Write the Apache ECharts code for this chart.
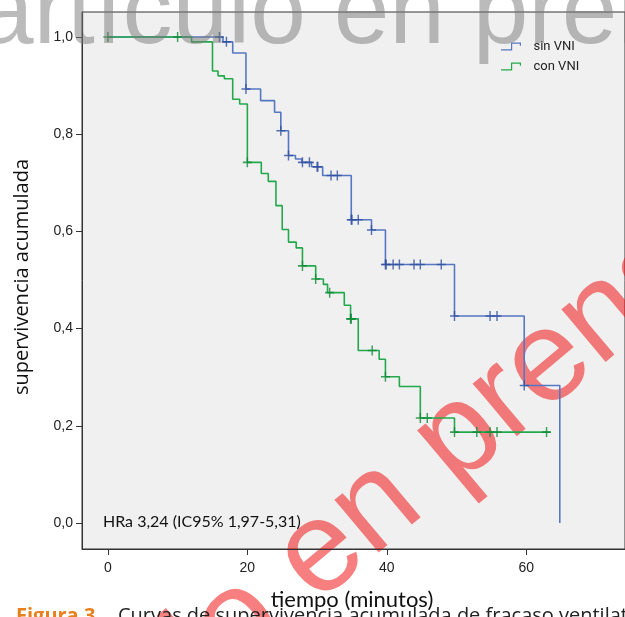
<!DOCTYPE html>
<html><head><meta charset="utf-8">
<script src="https://cdn.jsdelivr.net/npm/echarts@6/dist/echarts.min.js"></script>
<style>html,body{margin:0;padding:0;background:#fff}#c{width:625px;height:617px}</style>
</head><body><div id="c"></div>
<script>
// ---- data ----
const seriesNames = ['sin VNI', 'con VNI'];

// sin VNI: event times and cumulative survival after each step
const sinTimes = [0, 16.5, 17.9, 19.8, 21.9, 23.9, 24.8, 25.9, 26.9, 27.8, 29.2, 30.8, 34.9, 37.8, 39.8, 49.7, 59.7, 64.8];
const sinSurv  = [1.0, 0.990, 0.967, 0.893, 0.869, 0.845, 0.807, 0.756, 0.749, 0.742, 0.733, 0.715, 0.624, 0.603, 0.532, 0.426, 0.283, 0.0];
const sinCensorTimes = [16, 17, 19.8, 24.8, 25.9, 27.9, 28.9, 30, 30.1, 32, 32.9, 34.9, 35.0, 35.9, 37.8, 39.8, 39.9, 40.9, 41.8, 43.9, 44.8, 47.8, 49.7, 54.8, 55.8, 59.7];

// con VNI
const conTimes = [0, 12, 15, 15.8, 16.7, 17.9, 18.9, 20, 22, 23, 24.1, 25, 25.9, 27, 27.9, 29.8, 30.9, 31.5, 33.9, 34.8, 35.9, 38.9, 39.8, 41.8, 44.8, 49.7, 63.4];
const conSurv  = [1.0, 0.990, 0.930, 0.920, 0.914, 0.872, 0.862, 0.742, 0.719, 0.703, 0.653, 0.604, 0.578, 0.566, 0.529, 0.502, 0.491, 0.474, 0.448, 0.420, 0.355, 0.337, 0.301, 0.281, 0.216, 0.187, 0.187];
const conCensorTimes = [0, 10, 20, 27.9, 29.8, 31.8, 34.8, 34.9, 37.9, 39.8, 44.8, 45.8, 49.7, 52.9, 54.8, 55.8, 62.9];

const xTicks = [0, 20, 40, 60];
const yTicks = [0, 0.2, 0.4, 0.6, 0.8, 1.0];
const xAxisTitle = 'tiempo (minutos)';
const yAxisTitle = 'supervivencia acumulada';
const hrText = 'HRa 3,24 (IC95% 1,97-5,31)';
const watermarkText = ['artículo ', 'en prensa'];
const captionLabel = 'Figura 3.';
const captionText = 'Curvas de supervivencia acumulada de fracaso ventilatorio';

// ---- helpers ----
function survAt(times, surv, t) {
  let v = surv[0];
  for (let i = 0; i < times.length; i++) { if (times[i] <= t + 1e-9) v = surv[i]; }
  return v;
}
const stepData = (times, surv) => times.map((t, i) => [t, surv[i]]);
const censorData = (ct, times, surv) => ct.map(t => [t, survAt(times, surv, t)]);

const plusPath = 'path://M4.2,0 H5.8 V10 H4.2 Z M0,4.2 H10 V5.8 H0 Z';
const stepIcon = 'path://M0,8.5 H12.5 V0 H25 V4 H23.5 V1.5 H14 V10 H0 Z';

const blue = '#5577c4', blueDark = '#2f4f9f';
const green = '#23a94c', greenDark = '#0e8a36';

const chart = echarts.init(document.getElementById('c'), null, {renderer: 'canvas'});
chart.setOption({
  backgroundColor: '#ffffff',
  animation: false,
  grid: {left: 82, top: 12, right: -2, bottom: 68, show: true,
         backgroundColor: '#f0f0f0', borderColor: '#333', borderWidth: 1},
  legend: {
    data: [{name: seriesNames[0], icon: stepIcon}, {name: seriesNames[1], icon: stepIcon}],
    orient: 'vertical', left: 496, top: 35, itemWidth: 27, itemHeight: 8, itemGap: 7,
    textStyle: {fontFamily: 'Roboto', fontSize: 13, color: '#222', padding: [0,0,0,4]}
  },
  xAxis: {
    type: 'value', min: -3.71, max: 74.15,
    splitLine: {show: false},
    axisLine: {show: true, onZero: false, lineStyle: {color: '#333', width: 1}},
    axisTick: {show: true, length: 6, customValues: xTicks, lineStyle: {color: '#333'}},
    axisLabel: {customValues: xTicks, fontFamily: 'Liberation Sans', fontSize: 14, color: '#222', margin: 12}
  },
  yAxis: {
    type: 'value', min: -0.0535, max: 1.0514,
    splitLine: {show: false},
    axisLine: {show: true, onZero: false, lineStyle: {color: '#333', width: 1}},
    axisTick: {show: true, length: 6, customValues: yTicks, lineStyle: {color: '#333'}},
    axisLabel: {customValues: yTicks, fontFamily: 'Liberation Sans', fontSize: 14, color: '#222', margin: 9,
                formatter: v => v.toFixed(1).replace('.', ',')}
  },
  series: [
    {name: seriesNames[0], type: 'line', step: 'end', data: stepData(sinTimes, sinSurv),
     showSymbol: false, color: blue, lineStyle: {color: blue, width: 1.6}, z: 3},
    {name: seriesNames[1], type: 'line', step: 'end', data: stepData(conTimes, conSurv),
     showSymbol: false, color: green, lineStyle: {color: green, width: 1.6}, z: 4},
    {name: 'censura sin VNI', type: 'scatter', data: censorData(sinCensorTimes, sinTimes, sinSurv),
     symbol: plusPath, symbolSize: [9, 10], itemStyle: {color: blueDark}, z: 5},
    {name: 'censura con VNI', type: 'scatter', data: censorData(conCensorTimes, conTimes, conSurv),
     symbol: plusPath, symbolSize: [9, 10], itemStyle: {color: greenDark}, z: 6}
  ],
  graphic: [
    {type: 'text', x: 22, y: 277, rotation: Math.PI / 2,
     style: {text: yAxisTitle, font: '20px "Open Sans"', fill: '#111', align: 'center', verticalAlign: 'middle'}},
    {type: 'text', x: 352, y: 600,
     style: {text: xAxisTitle, font: '22px Lato', fill: '#111', align: 'center', verticalAlign: 'middle'}},
    {type: 'text', x: 103, y: 522,
     style: {text: hrText, font: '16px Lato', fill: '#111', align: 'left', verticalAlign: 'middle'}},
    {type: 'text', x: 16, y: 606, z: 50,
     style: {text: captionLabel, font: 'bold 20px "Open Sans"', fill: '#e8801e', align: 'left', verticalAlign: 'top'}},
    {type: 'text', x: 118, y: 606, z: 50,
     style: {text: captionText, font: '20px "Open Sans"', fill: '#222', align: 'left', verticalAlign: 'top'}},
    // grey watermark across the top
    {type: 'text', x: -22, y: 65, z: 100,
     style: {text: watermarkText.join(''), font: '100px "Liberation Sans"', fill: 'rgba(120,120,120,0.5)', align: 'left', verticalAlign: 'bottom'}},
    // red diagonal watermark
    {type: 'group', x: 335, y: 627, rotation: 40 * Math.PI / 180, z: 100, children: [
      {type: 'text', x: 0, y: 0, style: {text: watermarkText[0], font: '130px "Liberation Sans"', fill: 'rgba(240,0,0,0.5)', align: 'right', verticalAlign: 'bottom'}},
      {type: 'text', x: 0, y: 0, style: {text: watermarkText[1], font: '130px "Liberation Sans"', fill: 'rgba(240,0,0,0.5)', align: 'left', verticalAlign: 'bottom'}}
    ]}
  ]
});
</script></body></html>
